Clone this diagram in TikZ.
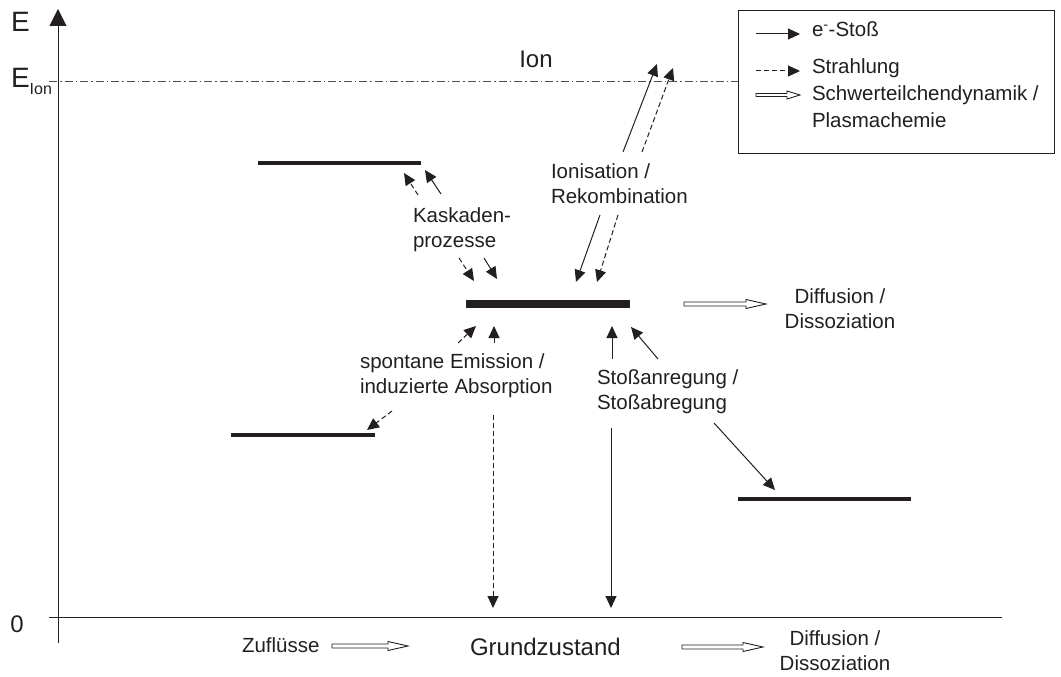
\documentclass[tikz,border=0pt]{standalone}
\usepackage{fontspec}
\setmainfont{Liberation Sans}
\usetikzlibrary{arrows.meta,calc}
\definecolor{ink}{RGB}{35,31,32}

% open block arrow (horizontal): start, tip, head length, head half width, shaft half width
\newcommand{\hollowarr}[5]{%
  \draw[hollow] ($(#1)+(0,#5)$) -- ($(#2)+(-#3,#5)$) -- ($(#2)+(-#3,#4)$) -- (#2)
    -- ($(#2)+(-#3,-#4)$) -- ($(#2)+(-#3,-#5)$) -- ($(#1)+(0,-#5)$) -- cycle;}

\begin{document}
\begin{tikzpicture}[x=1pt,y=-1pt,
  every node/.style={inner sep=0pt,outer sep=0pt,text=ink},
  txt/.style={font=\fontsize{20.5}{25}\selectfont,align=left},
  txtc/.style={font=\fontsize{20.5}{25}\selectfont,align=center},
  base/.style={draw=ink,line width=1pt},
  level/.style={draw=ink,line width=4pt},
  mainlevel/.style={draw=ink,line width=8pt},
  collision/.style={base,-{Triangle[length=12pt,width=11pt]}},
  radiation/.style={base,dash pattern=on 5pt off 3pt,-{Triangle[length=12pt,width=11pt]}},
  hollow/.style={draw=ink,line width=0.9pt,fill=white},
  ionline/.style={draw=ink!80,line width=0.8pt,dash pattern=on 8pt off 3pt on 1.5pt off 3pt}]

\useasboundingbox (0,0) rectangle (1061,677);

% axes
\coordinate (ybot) at (58,643);
\coordinate (ytop) at (58,9);
\coordinate (xl) at (49,617);
\coordinate (xr) at (1002,617);
\draw[base,-{Triangle[length=17pt,width=17pt]}] (ybot) -- (ytop);
\draw[base] (xl) -- (xr);
\node[font=\fontsize{28}{28}\selectfont,anchor=base west] (elab) at (11,32) {E};
\node[font=\fontsize{28}{28}\selectfont,anchor=base west] (eion) at (11,88)
  {E{\fontsize{16}{16}\selectfont\raisebox{-7pt}{Ion}}};
\node[font=\fontsize{24}{24}\selectfont] (zero) at (17,624) {0};

% legend
\node[draw=ink,line width=0.9pt,fill=white,minimum width=316pt,minimum height=143pt,anchor=north west]
  (legend) at (738,10) {};
\coordinate (eionl) at (49,81);
\draw[ionline] (eionl) -- (eionl -| legend.west);
\coordinate (lg1a) at (756,34);  \coordinate (lg1b) at (800,34);
\coordinate (lg2a) at (756,71);  \coordinate (lg2b) at (800,71);
\coordinate (lg3a) at (756,95);  \coordinate (lg3b) at (800,95);
\draw[collision] (lg1a) -- (lg1b);
\draw[radiation] (lg2a) -- (lg2b);
\hollowarr{lg3a}{lg3b}{13}{4}{1.5}
\node[txt,anchor=base west] (lgt1) at (812,37) {e\textsuperscript{-}-Stoß};
\node[txt,anchor=base west] (lgt2) at (812,74) {Strahlung};
\node[font=\fontsize{20.5}{28}\selectfont,align=left,anchor=base west] (lgt3) at (812,128)
  {Schwerteilchendynamik /\\Plasmachemie};

% ion limit
\node[font=\fontsize{24}{24}\selectfont,anchor=base] (ion) at (536,67) {Ion};

% energy levels
\draw[level] (258,163) coordinate (l1a) -- (421,163) coordinate (l1b);
\draw[mainlevel] (466,304) coordinate (l2a) -- (630,304) coordinate (l2b);
\draw[level] (231,435) coordinate (l3a) -- (375,435) coordinate (l3b);
\draw[level] (738,499) coordinate (l4a) -- (911,499) coordinate (l4b);

% labels (base anchor of a multi-line node sits on its last line)
\node[txt,anchor=base west] (kask) at (413,247) {Kaskaden-\\prozesse};
\node[txt,anchor=base west] (ionis) at (551,203) {Ionisation /\\Rekombination};
\node[txt,anchor=base west] (spont) at (360,393) {spontane Emission /\\induzierte Absorption};
\node[txt,anchor=base west] (stoss) at (597,409) {Stoßanregung /\\Stoßabregung};
\node[txtc,anchor=base] (diff1) at (840,328) {Diffusion /\\Dissoziation};
\node[txt,anchor=base west] (zufl) at (242,652) {Zuflüsse};
\node[font=\fontsize{24}{24}\selectfont,anchor=base west] (grund) at (470,655) {Grundzustand};
\node[txtc,anchor=base] (diff2) at (835,670) {Diffusion /\\Dissoziation};

% cascade processes
\coordinate (k1s) at (418,195); \coordinate (k1e) at (404,173);
\coordinate (k2s) at (441,194); \coordinate (k2e) at (425,170);
\coordinate (k3s) at (459,258); \coordinate (k3e) at (474,281);
\coordinate (k4s) at (484,258); \coordinate (k4e) at (497,279);
\draw[radiation] (k1s) -- (k1e);
\draw[collision] (k2s) -- (k2e);
\draw[radiation] (k3s) -- (k3e);
\draw[collision] (k4s) -- (k4e);

% ionisation / recombination
\coordinate (i1s) at (623,152); \coordinate (i1e) at (657,64);
\coordinate (i2s) at (642,152); \coordinate (i2e) at (673,68);
\coordinate (i3s) at (600,215); \coordinate (i3e) at (576,282);
\coordinate (i4s) at (618,215); \coordinate (i4e) at (597,282);
\draw[collision] (i1s) -- (i1e);
\draw[radiation] (i2s) -- (i2e);
\draw[collision] (i3s) -- (i3e);
\draw[radiation] (i4s) -- (i4e);

% emission / absorption
\coordinate (s1s) at (458,343); \coordinate (s1e) at (476,326);
\coordinate (s2s) at (494,343); \coordinate (s2e) at (494,326);
\coordinate (s3s) at (392,411); \coordinate (s3e) at (367,430);
\coordinate (s4s) at (493,415); \coordinate (s4e) at (493,608);
\draw[radiation] (s1s) -- (s1e);
\draw[collision] (s2s) -- (s2e);
\draw[radiation] (s3s) -- (s3e);
\draw[radiation] (s4s) -- (s4e);

% collisional excitation / de-excitation
\coordinate (c1s) at (612,359); \coordinate (c1e) at (612,326);
\coordinate (c2s) at (658,359); \coordinate (c2e) at (631,327);
\coordinate (c3s) at (611,428); \coordinate (c3e) at (611,608);
\coordinate (c4s) at (714,423); \coordinate (c4e) at (775,490);
\draw[collision] (c1s) -- (c1e);
\draw[collision] (c2s) -- (c2e);
\draw[collision] (c3s) -- (c3e);
\draw[collision] (c4s) -- (c4e);

% heavy particle transport
\coordinate (h1s) at (684,304); \coordinate (h1e) at (766,304);
\coordinate (h2s) at (332,646); \coordinate (h2e) at (408,646);
\coordinate (h3s) at (682,647); \coordinate (h3e) at (763,647);
\hollowarr{h1s}{h1e}{20}{4.5}{2}
\hollowarr{h2s}{h2e}{20}{4.5}{2}
\hollowarr{h3s}{h3e}{20}{4.5}{2}

\end{tikzpicture}
\end{document}
